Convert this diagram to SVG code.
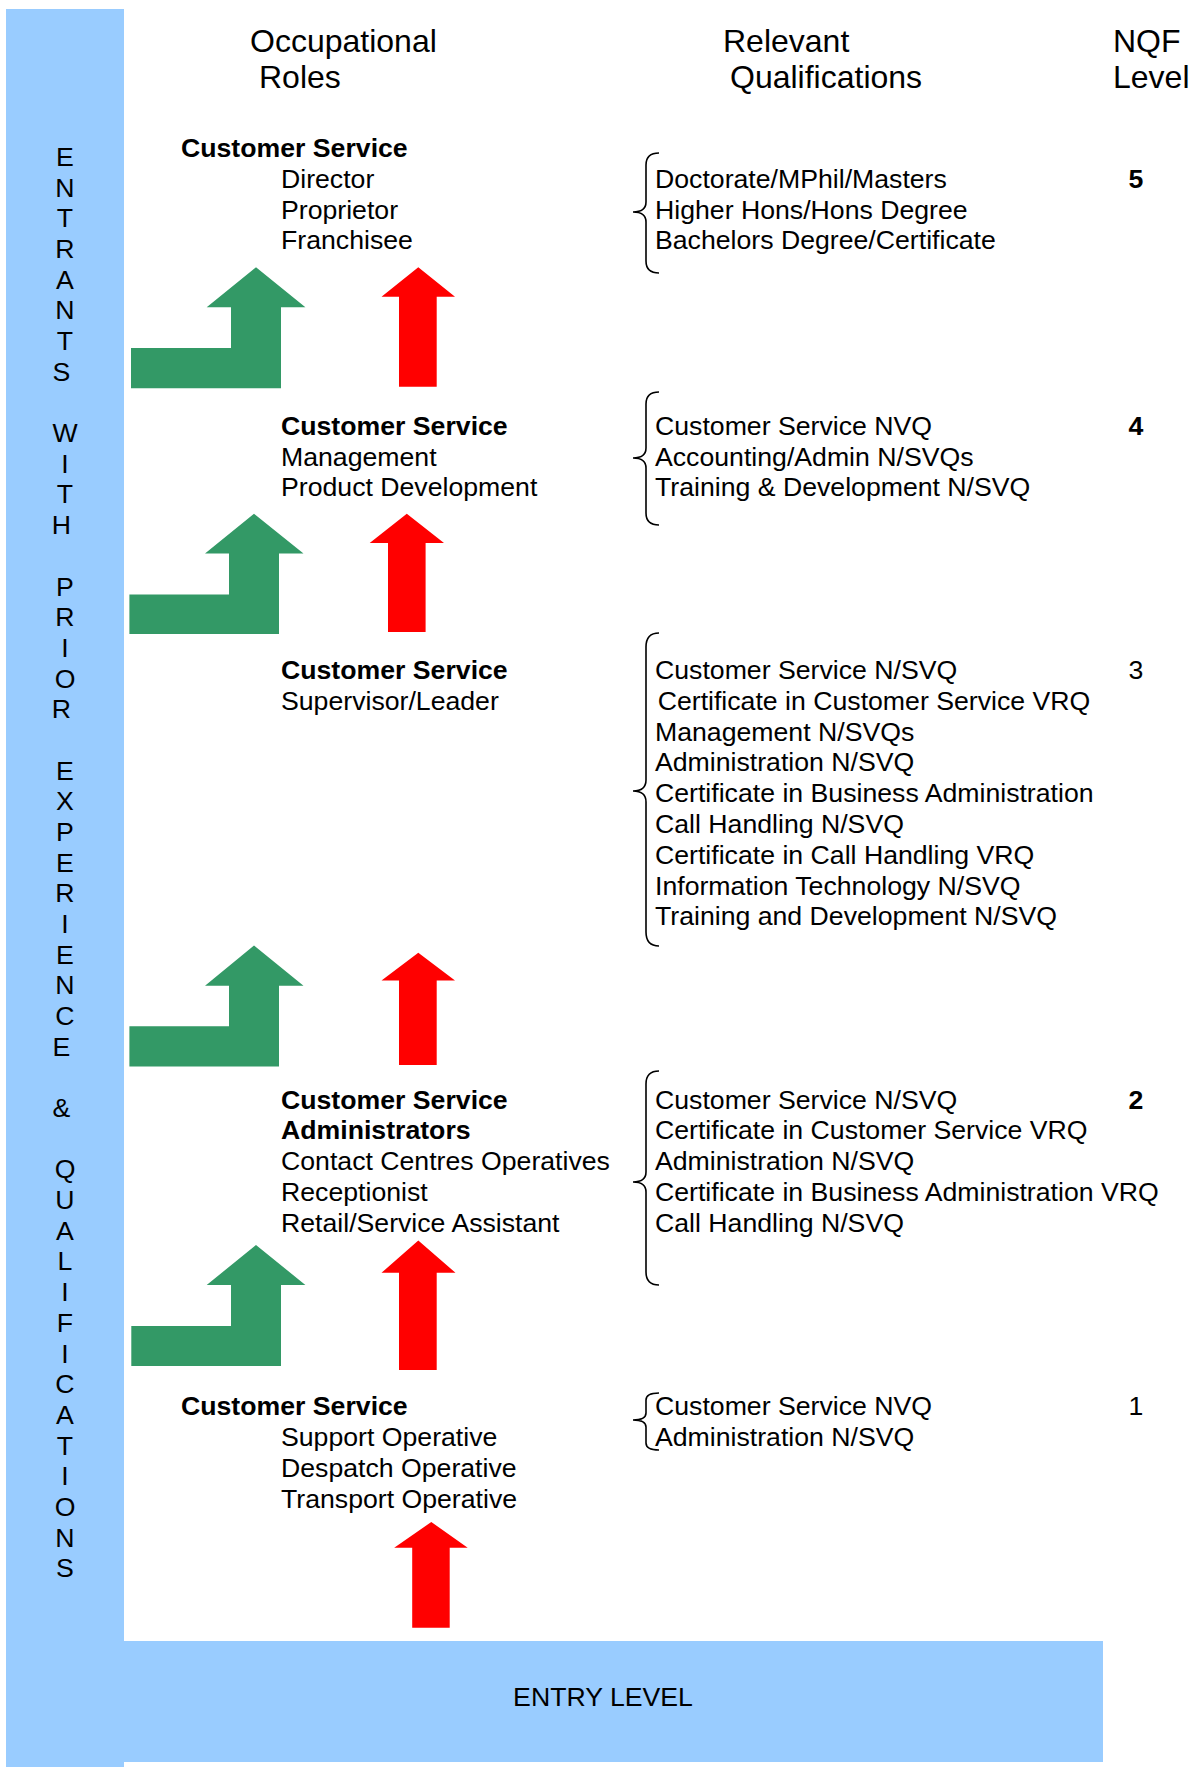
<svg xmlns="http://www.w3.org/2000/svg" width="1195" height="1767" viewBox="0 0 1195 1767">
<style>
text{font-family:"Liberation Sans",Arial,sans-serif;fill:#000}
.h{font-size:32px}
.t{font-size:26.67px}
.b{font-size:26.67px;font-weight:bold}
.v{font-size:26.67px;text-anchor:middle}
.n{font-size:26.67px;text-anchor:middle}
.band{fill:#99CCFF}
.green{fill:#339966}
.red{fill:#FF0000}
.brace{fill:none;stroke:#000;stroke-width:1.6}
</style>
<rect width="1195" height="1767" fill="#fff"/>
<g id="side-band">
<rect class="band" x="6" y="9" width="118" height="1758"/>
<text class="v">
<tspan x="65" y="166">E</tspan><tspan x="65" y="196.68">N</tspan><tspan x="65" y="227.36">T</tspan><tspan x="65" y="258.04">R</tspan><tspan x="65" y="288.72">A</tspan><tspan x="65" y="319.4">N</tspan><tspan x="65" y="350.08">T</tspan><tspan x="65" y="380.76">S</tspan>
<tspan x="65" y="442.12">W</tspan><tspan x="65" y="472.8">I</tspan><tspan x="65" y="503.48">T</tspan><tspan x="65" y="534.16">H</tspan>
<tspan x="65" y="595.52">P</tspan><tspan x="65" y="626.2">R</tspan><tspan x="65" y="656.88">I</tspan><tspan x="65" y="687.56">O</tspan><tspan x="65" y="718.24">R</tspan>
<tspan x="65" y="779.6">E</tspan><tspan x="65" y="810.28">X</tspan><tspan x="65" y="840.96">P</tspan><tspan x="65" y="871.64">E</tspan><tspan x="65" y="902.32">R</tspan><tspan x="65" y="933">I</tspan><tspan x="65" y="963.68">E</tspan><tspan x="65" y="994.36">N</tspan><tspan x="65" y="1025.04">C</tspan><tspan x="65" y="1055.72">E</tspan>
<tspan x="65" y="1117.08">&amp;</tspan>
<tspan x="65" y="1178.44">Q</tspan><tspan x="65" y="1209.12">U</tspan><tspan x="65" y="1239.8">A</tspan><tspan x="65" y="1270.48">L</tspan><tspan x="65" y="1301.16">I</tspan><tspan x="65" y="1331.84">F</tspan><tspan x="65" y="1362.52">I</tspan><tspan x="65" y="1393.2">C</tspan><tspan x="65" y="1423.88">A</tspan><tspan x="65" y="1454.56">T</tspan><tspan x="65" y="1485.24">I</tspan><tspan x="65" y="1515.92">O</tspan><tspan x="65" y="1546.6">N</tspan><tspan x="65" y="1577.28">S</tspan>
</text>
</g>
<g id="entry-level">
<rect class="band" x="124" y="1641" width="979" height="121"/>
<text class="t" x="603" y="1706" text-anchor="middle">ENTRY LEVEL</text>
</g>
<g id="headers">
<text class="h" x="250" y="52">Occupational</text>
<text class="h" x="259" y="88">Roles</text>
<text class="h" x="723" y="52">Relevant</text>
<text class="h" x="730" y="88">Qualifications</text>
<text class="h" x="1113" y="52">NQF</text>
<text class="h" x="1113" y="88">Level</text>
</g>
<g id="role-5">
<text class="b" x="181" y="157">Customer Service</text>
<text class="t" x="281" y="188">Director</text>
<text class="t" x="281" y="218.5">Proprietor</text>
<text class="t" x="281" y="249">Franchisee</text>
</g>
<g id="qual-5">
<path class="brace" d="M659,153 Q646,153 646,165 L646,202 Q646,212 633,212 Q646,212 646,222 L646,261 Q646,273 659,273"/>
<text class="t" x="655" y="188">Doctorate/MPhil/Masters</text>
<text class="t" x="655" y="218.5">Higher Hons/Hons Degree</text>
<text class="t" x="655" y="249">Bachelors Degree/Certificate</text>
</g>
<g id="level-5"><text class="n" x="1136" y="188" font-weight="bold">5</text></g>
<g id="role-4">
<text class="b" x="281" y="435">Customer Service</text>
<text class="t" x="281" y="465.7">Management</text>
<text class="t" x="281" y="496.4">Product Development</text>
</g>
<g id="qual-4">
<path class="brace" d="M659,392 Q646,392 646,404 L646,448 Q646,458 633,458 Q646,458 646,468 L646,513 Q646,525 659,525"/>
<text class="t" x="655" y="435">Customer Service NVQ</text>
<text class="t" x="655" y="465.7">Accounting/Admin N/SVQs</text>
<text class="t" x="655" y="496.4">Training &amp; Development N/SVQ</text>
</g>
<g id="level-4"><text class="n" x="1136" y="435" font-weight="bold">4</text></g>
<g id="role-3">
<text class="b" x="281" y="679">Customer Service</text>
<text class="t" x="281" y="709.8">Supervisor/Leader</text>
</g>
<g id="qual-3">
<path class="brace" d="M659,633 Q646,633 646,647 L646,780 Q646,791 633,791 Q646,791 646,802 L646,932 Q646,946 659,946"/>
<text class="t" x="655" y="679">Customer Service N/SVQ</text>
<text class="t" x="657.7" y="709.8">Certificate in Customer Service VRQ</text>
<text class="t" x="655" y="740.6">Management N/SVQs</text>
<text class="t" x="655" y="771.4">Administration N/SVQ</text>
<text class="t" x="655" y="802.2">Certificate in Business Administration</text>
<text class="t" x="655" y="833">Call Handling N/SVQ</text>
<text class="t" x="655" y="863.8">Certificate in Call Handling VRQ</text>
<text class="t" x="655" y="894.6">Information Technology N/SVQ</text>
<text class="t" x="655" y="925.4">Training and Development N/SVQ</text>
</g>
<g id="level-3"><text class="n" x="1136" y="679">3</text></g>
<g id="role-2">
<text class="b" x="281" y="1108.7">Customer Service</text>
<text class="b" x="281" y="1139">Administrators</text>
<text class="t" x="281" y="1170.3">Contact Centres Operatives</text>
<text class="t" x="281" y="1201">Receptionist</text>
<text class="t" x="281" y="1231.6">Retail/Service Assistant</text>
</g>
<g id="qual-2">
<path class="brace" d="M659,1071 Q646,1071 646,1084 L646,1172 Q646,1182 633,1182 Q646,1182 646,1192 L646,1272 Q646,1285 659,1285"/>
<text class="t" x="655" y="1108.7">Customer Service N/SVQ</text>
<text class="t" x="655" y="1139">Certificate in Customer Service VRQ</text>
<text class="t" x="655" y="1170.3">Administration N/SVQ</text>
<text class="t" x="655" y="1201">Certificate in Business Administration VRQ</text>
<text class="t" x="655" y="1231.6">Call Handling N/SVQ</text>
</g>
<g id="level-2"><text class="n" x="1136" y="1108.7" font-weight="bold">2</text></g>
<g id="role-1">
<text class="b" x="181" y="1415">Customer Service</text>
<text class="t" x="281" y="1446">Support Operative</text>
<text class="t" x="281" y="1477">Despatch Operative</text>
<text class="t" x="281" y="1507.5">Transport Operative</text>
</g>
<g id="qual-1">
<path class="brace" d="M659,1393 Q646,1393 646,1400 L646,1413 Q646,1420 633,1420 Q646,1420 646,1427 L646,1443 Q646,1450 659,1450"/>
<text class="t" x="655" y="1415">Customer Service NVQ</text>
<text class="t" x="655" y="1446">Administration N/SVQ</text>
</g>
<g id="level-1"><text class="n" x="1136" y="1415">1</text></g>
<g id="connectors">
<polygon class="green" points="131,348 231,348 231,307.3 206.7,307.3 256,267.3 305.4,307.3 281,307.3 281,388.3 131,388.3"/>
<polygon class="red" points="399,386.7 399,296.7 381.5,296.7 418.3,267.3 455,296.7 436.7,296.7 436.7,386.7"/>
<polygon class="green" points="129.4,594.6 229,594.6 229,553.6 205,553.6 254,513.8 303.5,553.6 279,553.6 279,634 129.4,634"/>
<polygon class="red" points="388,632 388,542.9 369.7,542.9 406.8,513.8 444,542.9 425.6,542.9 425.6,632"/>
<polygon class="green" points="129.4,1026.3 229,1026.3 229,985.7 205,985.7 254,945.5 303.5,985.7 279,985.7 279,1066.5 129.4,1066.5"/>
<polygon class="red" points="399,1065 399,980.4 381.5,980.4 418.3,952.7 455,980.4 436.7,980.4 436.7,1065"/>
<polygon class="green" points="131.3,1326 231,1326 231,1285 206.7,1285 256,1245 305.4,1285 281,1285 281,1366 131.3,1366"/>
<polygon class="red" points="399,1370 399,1272.8 381.5,1272.8 418.3,1240.4 455.5,1272.8 436.7,1272.8 436.7,1370"/>
<polygon class="red" points="412.2,1627.7 412.2,1547.7 394.2,1547.7 431.3,1522 467.7,1547.7 449.7,1547.7 449.7,1627.7"/>
</g>
</svg>
